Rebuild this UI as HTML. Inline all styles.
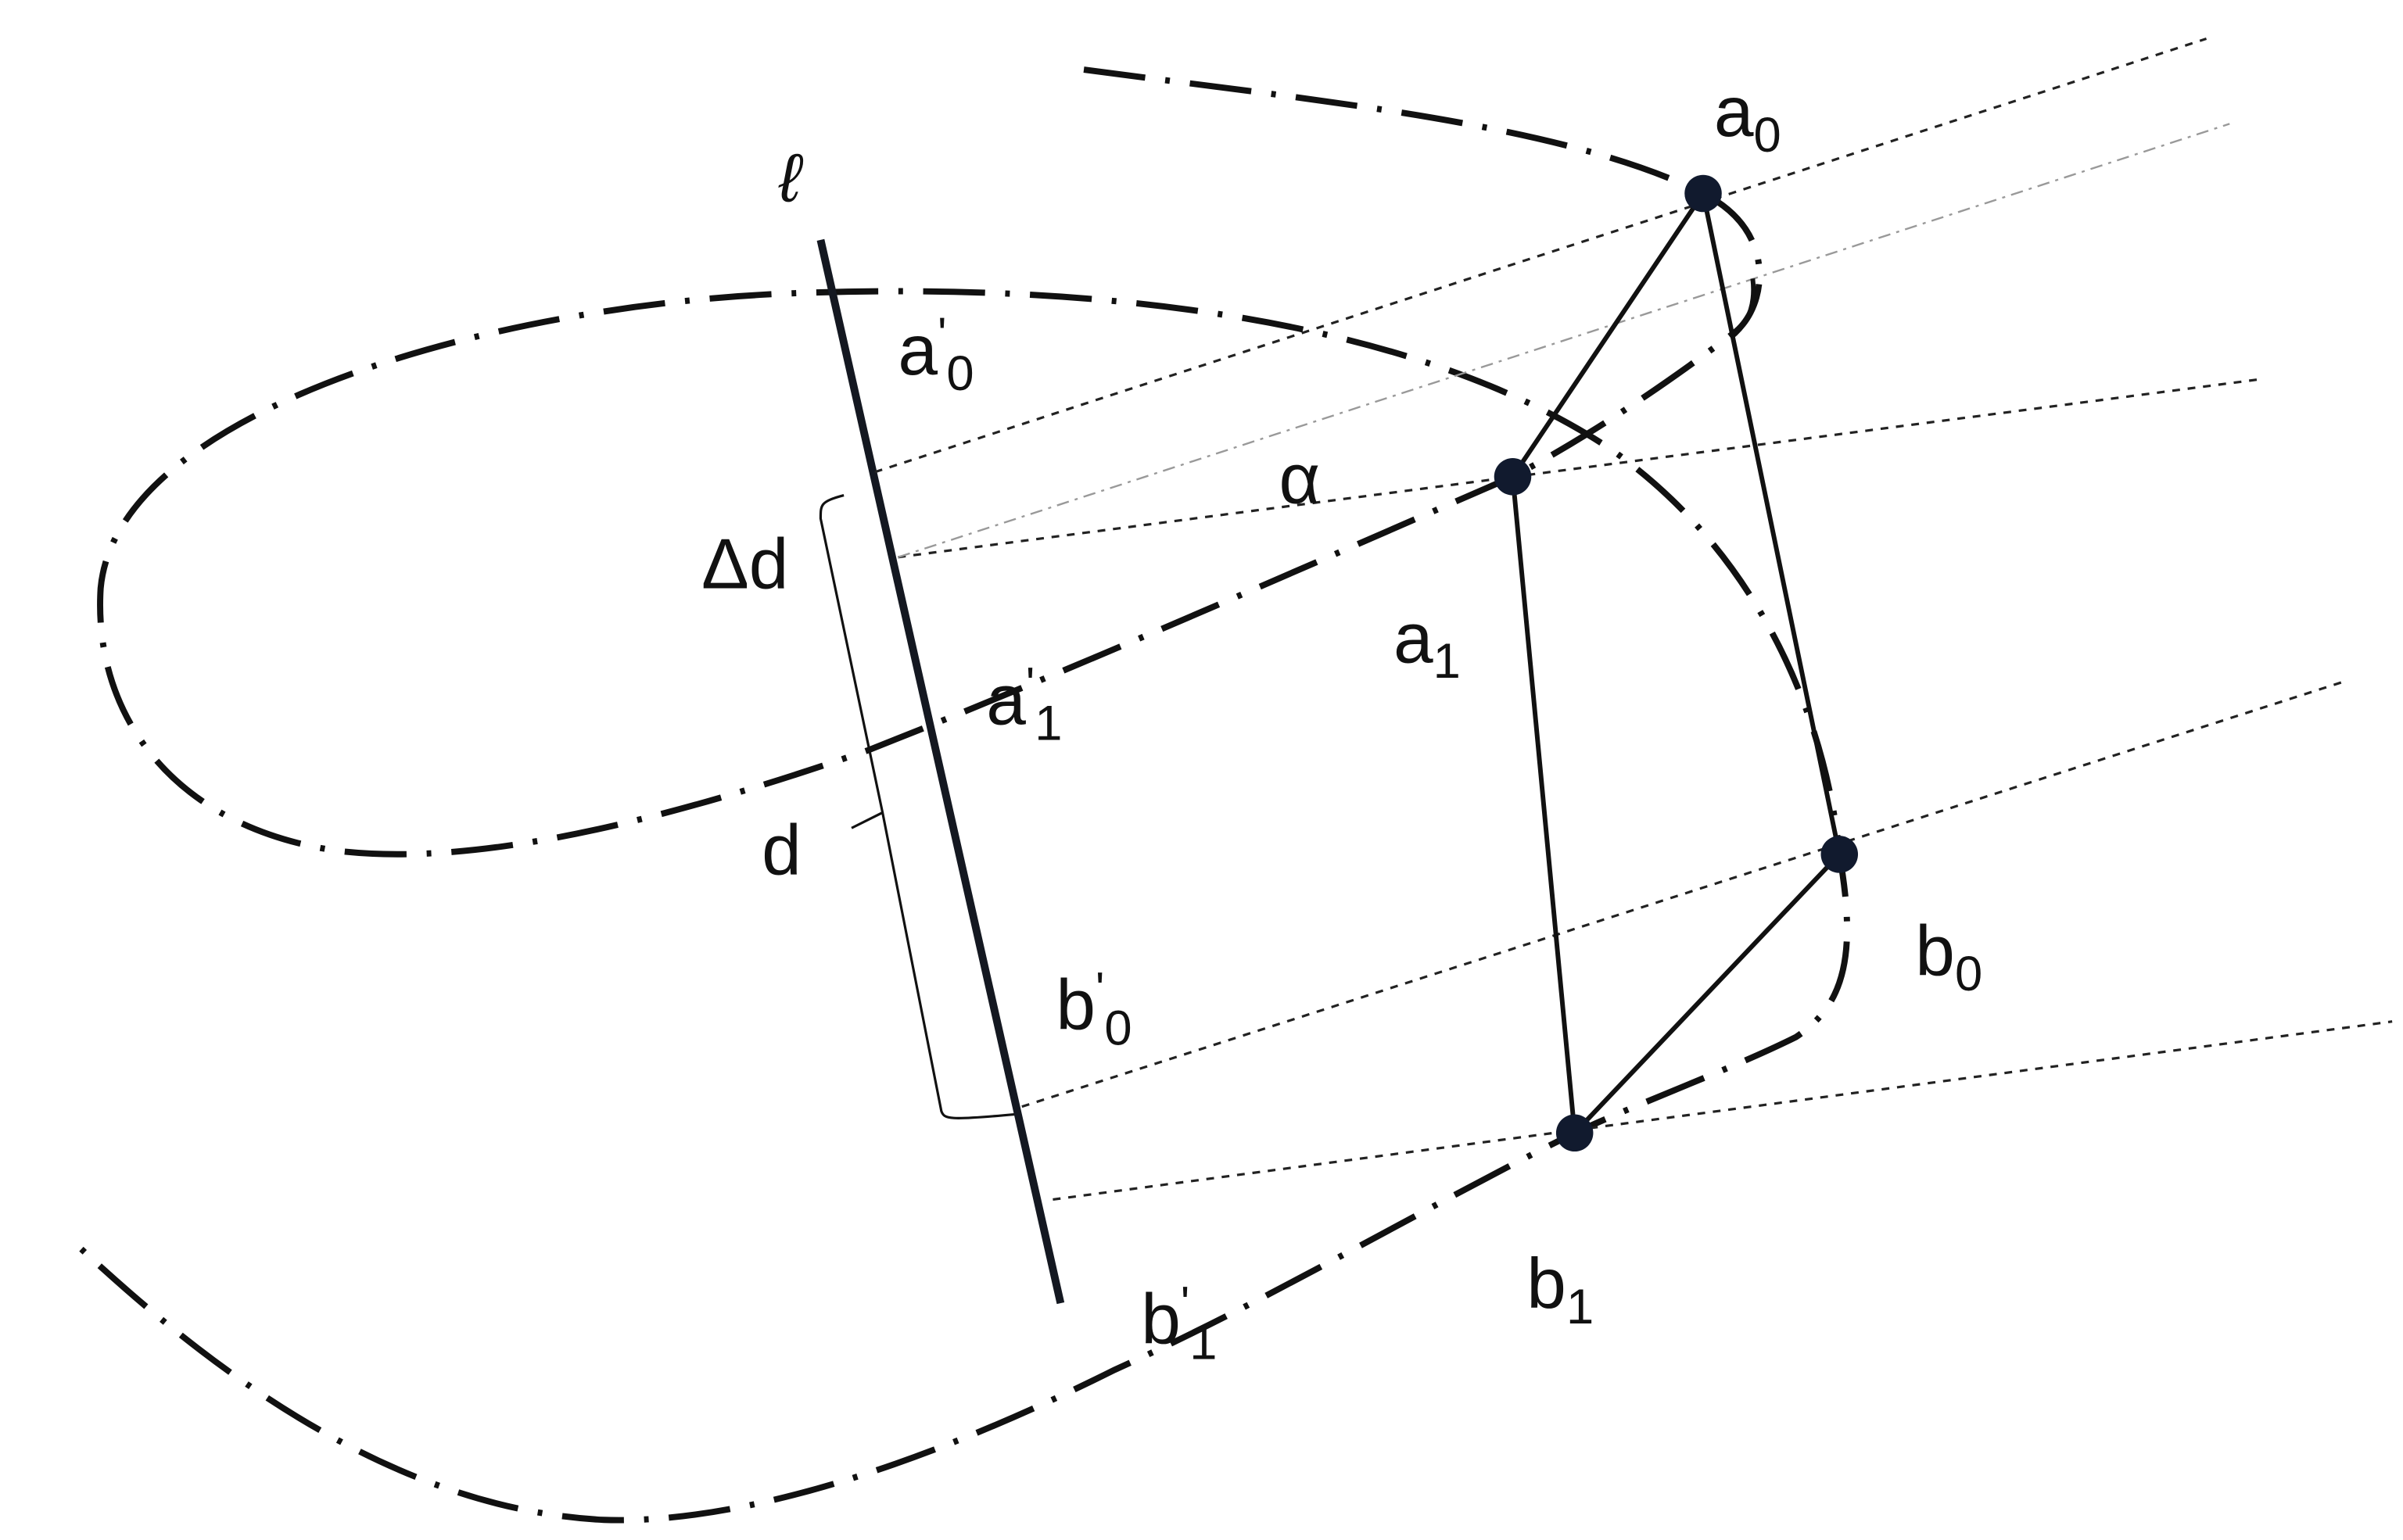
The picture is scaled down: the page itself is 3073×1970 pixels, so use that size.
<!DOCTYPE html>
<html><head><meta charset="utf-8"><style>
html,body{margin:0;padding:0;background:#fff;}
svg{display:block;}
text{font-family:"Liberation Sans",sans-serif;fill:#111;}
</style></head><body>
<svg width="3073" height="1970" viewBox="0 0 1552 995" preserveAspectRatio="none" xmlns="http://www.w3.org/2000/svg">
<path d="M700,45 C850,65 1010,80 1100,125 C1150,150 1140,200 1120,215 C1080,245 1030,280 977,308 C880,350 700,430 560,485 C430,530 310,560 220,550 C110,535 60,460 65,380 C75,270 300,200 500,190 C720,180 920,210 1040,290 C1140,360 1180,470 1188,552 C1200,620 1190,650 1160,670 C1120,690 1060,712 1017,732 C920,780 820,840 720,885 C600,945 480,985 390,982 C250,975 130,880 45,800"
 fill="none" stroke="#111" stroke-width="4" stroke-dasharray="40 13 3 13"/>
<line x1="530" y1="155" x2="685" y2="842" stroke="#141821" stroke-width="5"/>
<g stroke="#222" stroke-width="1.6" stroke-dasharray="5 5" fill="none">
<line x1="565" y1="305" x2="1425" y2="25"/>
<line x1="580" y1="360" x2="1460" y2="245"/>
<line x1="660" y1="715" x2="1515" y2="440"/>
<line x1="680" y1="775" x2="1545" y2="660"/>
</g>
<line x1="580" y1="360" x2="1440" y2="80" stroke="#999" stroke-width="1.2" stroke-dasharray="8 4 2 4"/>
<path d="M1132,180 Q1135,205 1118,218" fill="none" stroke="#111" stroke-width="3"/>
<g stroke="#111" stroke-width="3" fill="none">
<line x1="1100" y1="125" x2="977" y2="308"/>
<line x1="977" y1="308" x2="1017" y2="732"/>
<line x1="1017" y1="732" x2="1188" y2="552"/>
<line x1="1188" y1="552" x2="1100" y2="125"/>
</g>
<g fill="#111a2e">
<circle cx="1100" cy="125" r="12"/>
<circle cx="977" cy="308" r="12"/>
<circle cx="1188" cy="552" r="12"/>
<circle cx="1017" cy="732" r="12"/>
</g>
<path d="M545,320 C530,324 530,326 530,335 L570,525 L550,535 M570,525 L608,718 C610,723 612,724 655,720" fill="none" stroke="#111" stroke-width="1.6"/>
<g font-size="46">
<text x="503" y="130" font-family="DejaVu Serif" font-style="italic" font-size="44">ℓ</text>
<text x="580" y="242">a<tspan font-size="30" dy="-16">'</tspan><tspan font-size="32" dy="26">0</tspan></text>
<text x="453" y="380">Δd</text>
<text x="637" y="468">a<tspan font-size="30" dy="-16">'</tspan><tspan font-size="32" dy="26">1</tspan></text>
<text x="492" y="565">d</text>
<text x="682" y="665">b<tspan font-size="30" dy="-16">'</tspan><tspan font-size="32" dy="26">0</tspan></text>
<text x="737" y="868">b<tspan font-size="30" dy="-16">'</tspan><tspan font-size="32" dy="26">1</tspan></text>
<text x="826" y="325">α</text>
<text x="900" y="428">a<tspan font-size="32" dy="10">1</tspan></text>
<text x="1107" y="88">a<tspan font-size="32" dy="10">0</tspan></text>
<text x="1237" y="630">b<tspan font-size="32" dy="10">0</tspan></text>
<text x="986" y="845">b<tspan font-size="32" dy="10">1</tspan></text>
</g>
</svg>
</body></html>
